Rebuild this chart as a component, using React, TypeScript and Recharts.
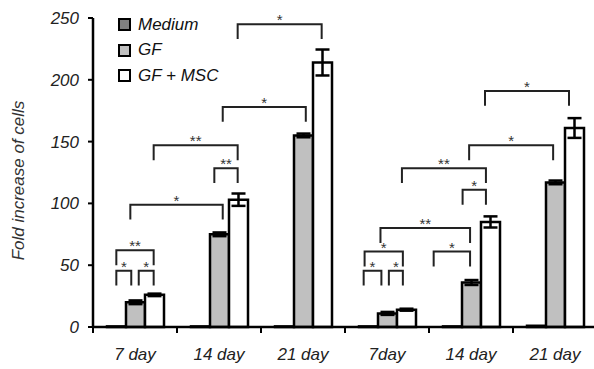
import { ComposedChart, Bar, ErrorBar, Scatter, XAxis, YAxis, Legend, Label } from "recharts";

const categories = ["7 day", "14 day", "21 day", "7day", "14 day", "21 day"];
const medium = [0.5, 0.5, 0.5, 0.5, 0.5, 1];
const gf = [20, 75, 155, 11, 36, 117];
const gfErr = [1.5, 1.5, 1.5, 1.2, 2, 1.5];
const gfMsc = [26, 103, 214, 14, 85, 161];
const gfMscErr = [1, 5, 10.5, 0.8, 4.5, 8];
const yTicks = [0, 50, 100, 150, 200, 250];

// significance brackets: ends are [category index, bar offset] (-1 Medium, 0 GF, 1 GF + MSC)
const brackets = [
  { from: [0, -1], to: [0, -0.2], top: 45.5, label: "*" },
  { from: [0, 0.2], to: [0, 1], top: 45.5, label: "*" },
  { from: [0, -1], to: [0, 1], top: 62, label: "**" },
  { from: [0, -0.25], to: [1, 0.2], top: 99, label: "*" },
  { from: [0, 1], to: [1, 1], top: 147, label: "**" },
  { from: [1, -0.25], to: [1, 1], top: 128.5, label: "**" },
  { from: [1, 0.2], to: [2, 0.15], top: 178, label: "*" },
  { from: [1, 1], to: [2, 1], top: 245, label: "*" },
  { from: [3, -1.25], to: [3, -0.3], top: 45.5, label: "*" },
  { from: [3, 0.1], to: [3, 0.85], top: 45.5, label: "*" },
  { from: [3, -1.2], to: [3, 0.85], top: 61, label: "*" },
  { from: [3, -0.35], to: [4, -0.05], top: 80, label: "**" },
  { from: [4, -2], to: [4, -0.05], top: 61, label: "*" },
  { from: [4, -0.45], to: [4, 0.8], top: 111, label: "*" },
  { from: [3, 0.8], to: [4, 0.8], top: 128.5, label: "**" },
  { from: [4, -0.1], to: [5, -0.1], top: 147, label: "*" },
  { from: [4, 0.75], to: [5, 0.75], top: 191, label: "*" },
];
const legDrop = 12;

const series = [
  { key: "medium", name: "Medium", fill: "#808080" },
  { key: "gf", name: "GF", fill: "#c0c0c0" },
  { key: "gfMsc", name: "GF + MSC", fill: "#ffffff" },
];

const FONT = "'Liberation Sans Narrow', 'Liberation Sans', Arial, sans-serif";
const CAT_GAP = 1 / 6;
const BAR_SHARE = (1 - 2 * CAT_GAP) / 3;

const data = categories.map((name, i) => ({
  name,
  medium: medium[i],
  gf: gf[i],
  gfErr: gfErr[i],
  gfMsc: gfMsc[i],
  gfMscErr: gfMscErr[i],
}));

const pos = ([cat, off]: number[]) => cat + 0.5 + off * BAR_SHARE;

const bracketLines = brackets.map((b) => {
  const x1 = pos(b.from);
  const x2 = pos(b.to);
  return [
    { x: x1, y: b.top - legDrop },
    { x: x1, y: b.top },
    { x: x2, y: b.top },
    { x: x2, y: b.top - legDrop },
  ];
});
const bracketLabels = brackets.map((b) => ({ x: (pos(b.from) + pos(b.to)) / 2, y: b.top, label: b.label }));

const xTicks = categories.flatMap((_, i) => [i, i + 0.5]).concat(categories.length);

const BottomTick = (props: any) => {
  const { x, y, payload } = props;
  const v = payload.value;
  if (Number.isInteger(v)) {
    return <line x1={x} x2={x} y1={y} y2={y + 6} stroke="#000" strokeWidth={2} />;
  }
  return (
    <text x={x} y={y + 33} textAnchor="middle" fontFamily={FONT} fontSize={17} fontStyle="italic" fill="#222">
      {categories[Math.floor(v)]}
    </text>
  );
};

const StarShape = (props: any) => (
  <text x={props.cx} y={props.cy + 1} textAnchor="middle" fontFamily="Arial, 'Liberation Sans', sans-serif" fontSize={15} fill="#333">
    {props.payload.label}
  </text>
);

const LegendBox = () => (
  <div style={{ fontFamily: FONT, fontStyle: "italic", fontSize: 17, color: "#111" }}>
    {series.map((s) => (
      <div key={s.key} style={{ display: "flex", alignItems: "center", height: 25.5 }}>
        <span style={{ width: 9, height: 9, border: "2px solid #000", background: s.fill, marginRight: 7 }} />
        {s.name}
      </div>
    ))}
  </div>
);

export default function App() {
  return (
    <div style={{ position: "absolute", left: 0, top: 0, width: 594, height: 369, overflow: "hidden", background: "#fff" }}>
      <ComposedChart
        width={600}
        height={369}
        data={data}
        margin={{ top: 18, right: 3, left: 0, bottom: 10 }}
        barCategoryGap={`${CAT_GAP * 100}%`}
        barGap={0}
      >
        <XAxis
          xAxisId="num"
          dataKey="x"
          type="number"
          domain={[0, categories.length]}
          allowDataOverflow
          ticks={xTicks}
          interval={0}
          tick={<BottomTick />}
          tickLine={false}
          tickSize={0}
          tickMargin={0}
          height={32}
          axisLine={{ stroke: "#000", strokeWidth: 2.5 }}
        />
        <XAxis xAxisId="cat" dataKey="name" hide height={0} />
        <YAxis
          domain={[0, 250]}
          ticks={yTicks}
          width={93}
          tickSize={5}
          tickMargin={9}
          tickLine={{ stroke: "#000", strokeWidth: 2 }}
          axisLine={{ stroke: "#000", strokeWidth: 2.5 }}
          tick={{ fill: "#222", fontSize: 17, fontStyle: "italic", fontFamily: FONT }}
        >
          <Label
            content={({ viewBox }: any) => {
              const cx = 24;
              const cy = viewBox.y + viewBox.height / 2 + 8;
              return (
                <text x={cx} y={cy} transform={`rotate(-90 ${cx} ${cy})`} textAnchor="middle" fontFamily={FONT} fontSize={17} fontStyle="italic" fill="#333">
                  Fold increase of cells
                </text>
              );
            }}
          />
        </YAxis>
        <Legend layout="vertical" align="center" verticalAlign="middle" content={<LegendBox />} wrapperStyle={{ left: 118, top: 12, width: 140 }} />
        <Bar xAxisId="cat" dataKey="medium" name="Medium" fill={series[0].fill} stroke="#000" strokeWidth={2.5} isAnimationActive={false} />
        <Bar xAxisId="cat" dataKey="gf" name="GF" fill={series[1].fill} stroke="#000" strokeWidth={2.5} isAnimationActive={false}>
          <ErrorBar dataKey="gfErr" width={7} stroke="#000" strokeWidth={2.5} />
        </Bar>
        <Bar xAxisId="cat" dataKey="gfMsc" name="GF + MSC" fill={series[2].fill} stroke="#000" strokeWidth={2.5} isAnimationActive={false}>
          <ErrorBar dataKey="gfMscErr" width={7} stroke="#000" strokeWidth={2.5} />
        </Bar>
        {bracketLines.map((pts, i) => (
          <Scatter
            key={i}
            xAxisId="num"
            data={pts}
            dataKey="y"
            line={{ stroke: "#222", strokeWidth: 2 }}
            shape={() => <g />}
            legendType="none"
            isAnimationActive={false}
          />
        ))}
        <Scatter xAxisId="num" data={bracketLabels} dataKey="y" shape={<StarShape />} legendType="none" isAnimationActive={false} />
      </ComposedChart>
    </div>
  );
}
